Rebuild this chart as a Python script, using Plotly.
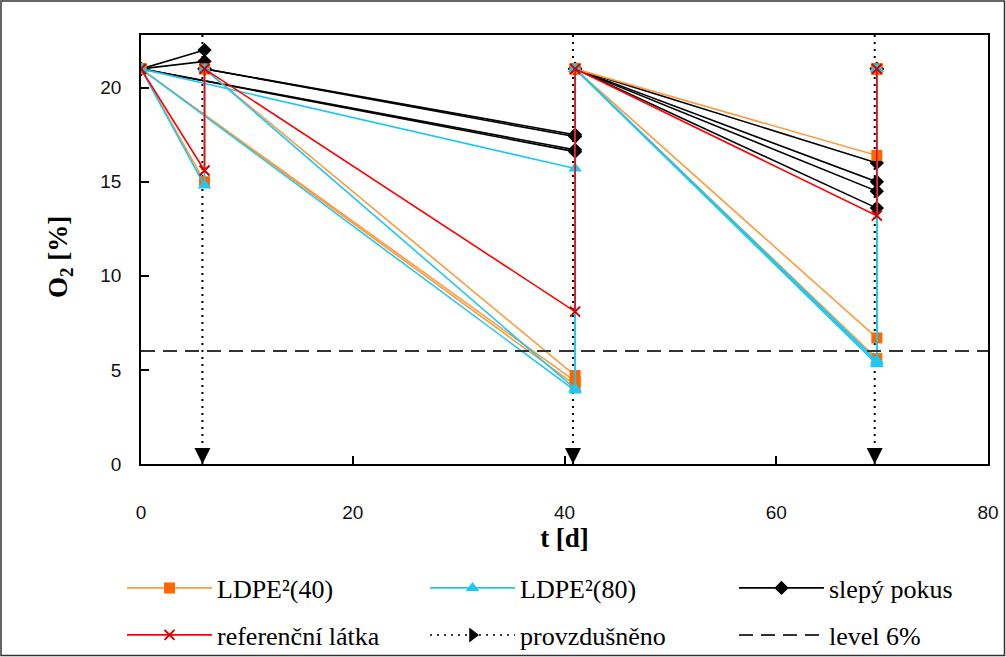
import plotly.graph_objects as go

# ---------------- data ----------------
times = [0, 6, 6, 41, 41, 69.5, 69.5]

ldpe40_r1 = [21.0, 15.0, 21.0, 4.7, 21.0, 6.7, 21.0]
ldpe40_r2 = [21.0, None, None, 4.2, 21.0, 5.6, 21.0]
ldpe40_r3 = [21.0, None, None, 4.4, 21.0, 16.4, 21.0]

ldpe80_r1 = [21.0, 14.8, 21.0, 4.0, 21.0, 5.4, 21.0]
ldpe80_r2 = [21.0, None, None, 3.9, 21.0, 5.3, 21.0]
ldpe80_r3 = [21.0, None, None, 15.7, 21.0, 5.5, 21.0]

slepy_r1 = [21.0, 22.0, 21.0, 17.5, 21.0, 16.0, 21.0]
slepy_r2 = [21.0, 21.4, 21.0, 17.4, 21.0, 15.0, 21.0]
slepy_r3 = [21.0, None, None, 16.7, 21.0, 14.5, 21.0]
slepy_r4 = [21.0, None, None, 16.6, 21.0, 13.6, 21.0]

ref_r1 = [21.0, 15.6, 21.0, 8.1, 21.0, 13.2, 21.0]

aeration_days = [5.8, 40.8, 69.3]
level_value = 6
y_max = 22.8
x_max = 80

names = ["LDPE²(40)", "LDPE²(80)", "slepý pokus", "referenční látka", "provzdušněno", "level 6%"]
x_title = "t [d]"
y_title = "O<sub>2</sub> [%]"

# ---------------- figure ----------------
W, H = 1006, 657
ML, MR, MT, MB = 141, 18, 35, 193
PW, PH = W - ML - MR, H - MT - MB

fig = go.Figure()

# aeration: dotted vertical lines with arrow heads at the bottom (drawn first, underneath)
ax, ay = [], []
for d in aeration_days:
    ax += [d, d, None]
    ay += [y_max, 0, None]
fig.add_trace(go.Scatter(x=ax, y=ay, mode="lines", showlegend=False, hoverinfo="skip",
                         line=dict(color="#000000", width=2, dash="2px,5px")))


def add_series(reps, name, legend, line_color, marker_color, symbol, msize, mline=None):
    for i, ys in enumerate(reps):
        fig.add_trace(go.Scatter(
            x=times, y=ys, mode="lines+markers", name=name, legend=legend,
            connectgaps=True, legendgroup=name, showlegend=(i == 0),
            line=dict(color=line_color, width=1.6),
            marker=dict(symbol=symbol, size=msize, color=marker_color,
                        line=dict(width=mline[0], color=mline[1]) if mline else dict(width=0)),
        ))


add_series([slepy_r1, slepy_r2, slepy_r3, slepy_r4], names[2], "legend3",
           "#000000", "#000000", "diamond", 11)
add_series([ldpe40_r1, ldpe40_r2, ldpe40_r3], names[0], "legend",
           "#FF9A3C", "#FF6600", "square", 11)
add_series([ldpe80_r1, ldpe80_r2, ldpe80_r3], names[1], "legend2",
           "#1EC8F5", "#1EC8F5", "triangle-up", 12)
add_series([ref_r1], names[3], "legend4", "#FF0000", "#E00000", "x-thin", 10, (2, "#D00000"))

fig.add_trace(go.Scatter(x=aeration_days, y=[0] * len(aeration_days), mode="markers",
                         showlegend=False,
                         marker=dict(symbol="arrow-down", size=16, color="#000000")))
# legend-only entry for aeration
fig.add_trace(go.Scatter(x=[None], y=[None], mode="lines+markers", name=names[4],
                         legend="legend5",
                         line=dict(color="#000000", width=1.5, dash="2px,5px"),
                         marker=dict(symbol="triangle-right", size=13, color="#000000")))

# level 6 %
fig.add_trace(go.Scatter(x=[0, x_max], y=[level_value, level_value], mode="lines", name=names[5],
                         legend="legend6",
                         line=dict(color="#333333", width=2, dash="14px,8px")))

tickfont = dict(family="Liberation Sans, Arial, sans-serif", size=19, color="#111111")
titlefont = dict(family="Liberation Serif, Times New Roman, serif", size=27, color="#000000",
                 weight="bold")
legfont = dict(family="Liberation Serif, Times New Roman, serif", size=26, color="#000000")


def leg(col_px, row_px):
    return dict(orientation="v", xref="container", yref="container",
                x=(col_px - 8) / W, xanchor="left", y=1 - row_px / H, yanchor="middle",
                font=legfont, itemwidth=85, bgcolor="rgba(0,0,0,0)")


legend_cols = [130, 433, 742]
legend_rows = [588, 635]

fig.update_layout(
    width=W, height=H,
    margin=dict(l=ML, r=MR, t=MT, b=MB, autoexpand=False),
    paper_bgcolor="white", plot_bgcolor="white",
    showlegend=True,
    legend=leg(legend_cols[0], legend_rows[0]),
    legend2=leg(legend_cols[1], legend_rows[0]),
    legend3=leg(legend_cols[2], legend_rows[0]),
    legend4=leg(legend_cols[0], legend_rows[1]),
    legend5=leg(legend_cols[1], legend_rows[1]),
    legend6=leg(legend_cols[2], legend_rows[1]),
    xaxis=dict(range=[0, x_max], tickvals=[0, 20, 40, 60, 80], ticks="inside", ticklen=8,
               tickcolor="#000000", tickwidth=1.5,
               showline=True, linecolor="#000000", linewidth=1.5, mirror=True,
               showgrid=False, zeroline=False, tickfont=tickfont, ticklabelstandoff=30,
               title=dict(text=x_title, font=titlefont, standoff=4)),
    yaxis=dict(range=[0, y_max], tickvals=[0, 5, 10, 15, 20], ticks="inside", ticklen=8,
               tickcolor="#000000", tickwidth=1.5,
               showline=True, linecolor="#000000", linewidth=1.5, mirror=True,
               showgrid=False, zeroline=False, tickfont=tickfont, ticklabelstandoff=14),
    annotations=[dict(text=y_title, xref="paper", yref="paper", x=-(ML - 60) / PW,
                      y=(464 - 257 - (H - MB - 464)) / PH, xanchor="center", yanchor="middle",
                      textangle=-90, showarrow=False, font=titlefont)],
    shapes=[dict(type="rect", xref="paper", yref="paper", layer="above",
                 x0=-(ML - 1) / PW, x1=1 + (MR - 1.5) / PW,
                 y0=-(MB - 1.5) / PH, y1=1 + (MT - 1) / PH,
                 line=dict(color="#333333", width=1.5))],
)

fig.write_html("out.html")
